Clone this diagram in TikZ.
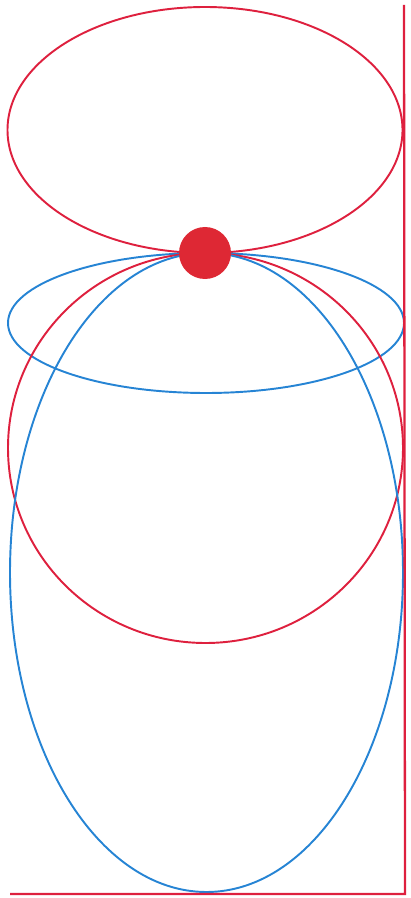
\documentclass[tikz,border=0pt]{standalone}
\begin{document}
\begin{tikzpicture}[x=0.02cm, y=-0.02cm, line width=1.1pt]

    % Colores del dibujo
    \definecolor{lobered}{RGB}{222,32,62}
    \definecolor{lobeblue}{RGB}{38,132,212}
    \definecolor{dotred}{RGB}{222,40,52}

    % Marco de la figura
    \useasboundingbox (0,0) rectangle (410,898);

    % 1. Lóbulo superior (rojo)
    \draw[lobered] (205,130) ellipse (197.5 and 123);

    % 2. Lóbulo plano (azul)
    \draw[lobeblue] (206,323) ellipse (198 and 70);

    % 3. Lóbulo casi circular (rojo)
    \draw[lobered] (205.5,448) ellipse (197.5 and 195);

    % 4. Lóbulo grande (azul)
    \draw[lobeblue] (206.5,572.5) ellipse (196.5 and 319.5);

    % 5. Fuente puntual en el centro
    \fill[dotred] (205,253) circle (26);

    % 6. Ejes (líneas rojas)
    \draw[lobered, line width=1.3pt] (404,5) -- (405,894) -- (10,894);

\end{tikzpicture}
\end{document}
